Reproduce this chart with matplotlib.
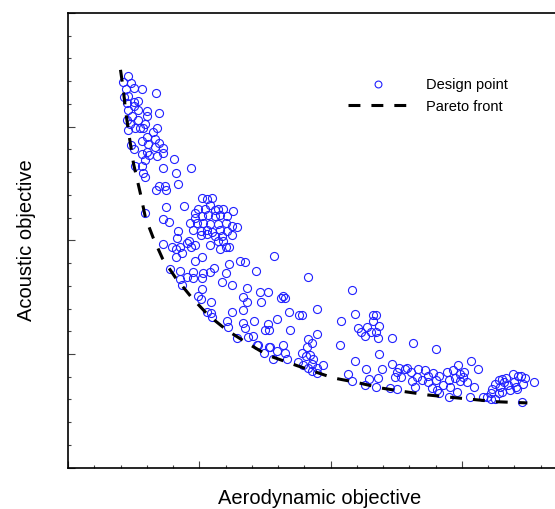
import numpy as np
import matplotlib.pyplot as plt
from matplotlib.ticker import MultipleLocator, AutoMinorLocator

# Pontos de projeto (objetivo aerodinamico, objetivo acustico)
pontos_topo = [
    (0.46, 3.45), (0.42, 3.39), (0.48, 3.38), (0.44, 3.33), (0.50, 3.34), (0.56, 3.33),
    (0.67, 3.30), (0.46, 3.27), (0.43, 3.26), (0.53, 3.23), (0.45, 3.21), (0.50, 3.22),
    (0.46, 3.15), (0.50, 3.18), (0.53, 3.15), (0.60, 3.14), (0.69, 3.12), (0.49, 3.09),
    (0.60, 3.09), (0.45, 3.06), (0.53, 3.06), (0.47, 3.02), (0.59, 3.02), (0.46, 2.97),
    (0.51, 2.99), (0.55, 2.99), (0.57, 2.99), (0.68, 2.99), (0.65, 2.95), (0.60, 2.91),
    (0.66, 2.89), (0.56, 2.87), (0.61, 2.85), (0.69, 2.86), (0.66, 2.82), (0.72, 2.81),
    (0.48, 2.84), (0.50, 2.80), (0.56, 2.76), (0.60, 2.78), (0.62, 2.75), (0.68, 2.74),
    (0.72, 2.77), (0.81, 2.72), (0.59, 2.71), (0.51, 2.65), (0.56, 2.65), (0.72, 2.64),
    (0.94, 2.64), (0.57, 2.59), (0.82, 2.59), (0.59, 2.56),
]
pontos_meio = [
    (0.69, 2.48), (0.74, 2.48), (0.75, 2.44), (0.67, 2.44), (0.84, 2.50), (0.59, 2.24),
    (0.75, 2.29), (0.88, 2.30), (0.72, 2.19), (0.77, 2.16), (1.02, 2.37), (1.06, 2.36),
    (1.10, 2.37), (0.97, 2.24), (0.99, 2.28), (1.04, 2.28), (1.08, 2.31), (1.12, 2.27),
    (1.14, 2.28), (1.18, 2.28), (1.26, 2.26), (0.97, 2.20), (1.02, 2.21), (1.07, 2.22),
    (1.12, 2.21), (1.16, 2.22), (1.21, 2.21), (0.93, 2.15), (0.98, 2.15), (1.03, 2.15),
    (1.08, 2.14), (1.14, 2.14), (1.20, 2.15), (1.25, 2.13), (1.29, 2.12), (0.84, 2.08),
    (0.95, 2.09), (1.01, 2.08), (1.06, 2.09), (1.10, 2.07), (1.16, 2.09), (1.21, 2.08),
    (0.83, 2.02), (0.92, 1.99), (1.01, 2.05), (1.06, 2.06), (1.12, 2.04), (1.17, 2.04),
    (1.25, 2.05), (0.79, 1.94), (0.85, 1.94), (0.91, 1.98), (0.97, 1.96), (1.08, 1.96),
    (1.14, 1.99), (1.18, 1.99), (1.23, 1.94), (0.72, 1.97), (0.82, 1.92), (0.87, 1.89),
    (0.94, 1.94), (1.16, 1.92), (1.20, 1.94), (0.82, 1.85), (0.97, 1.82), (1.02, 1.85),
    (1.57, 1.86), (1.31, 1.82), (1.35, 1.81), (0.78, 1.75), (0.85, 1.73), (0.95, 1.72),
    (1.03, 1.71), (1.08, 1.72), (1.11, 1.76), (1.23, 1.79), (1.20, 1.71), (1.43, 1.73),
    (0.85, 1.66), (0.91, 1.68), (0.95, 1.67), (0.87, 1.61), (1.02, 1.67), (1.17, 1.63),
    (1.25, 1.61), (1.02, 1.57), (0.99, 1.51), (1.01, 1.48), (1.09, 1.46), (1.36, 1.58),
    (1.33, 1.50), (1.36, 1.46), (1.46, 1.55), (1.52, 1.55), (1.47, 1.46), (1.64, 1.51),
    (1.65, 1.49), (1.62, 1.49), (1.06, 1.37), (1.09, 1.36), (1.10, 1.33), (1.25, 1.37),
    (1.21, 1.29), (1.22, 1.24), (1.33, 1.39), (1.33, 1.27), (1.35, 1.23), (1.42, 1.29),
    (1.52, 1.26), (1.50, 1.21), (1.53, 1.21), (1.59, 1.31), (1.68, 1.37), (1.76, 1.34),
    (1.69, 1.21), (1.29, 1.14), (1.37, 1.15), (1.41, 1.16), (1.44, 1.08), (1.53, 1.06),
    (1.64, 1.08),
]
pontos_centro = [
    (1.83, 1.68), (2.16, 1.56), (2.08, 1.29), (1.90, 1.40), (1.78, 1.34), (1.90, 1.18),
    (2.07, 1.08), (1.65, 1.01), (1.67, 0.96), (1.59, 1.03), (1.56, 0.96), (1.54, 1.06),
    (1.49, 1.01), (1.45, 1.08), (1.83, 1.13), (1.86, 1.10), (1.82, 1.06), (1.78, 1.01),
    (1.81, 0.98), (1.84, 0.99), (1.87, 0.96), (1.75, 0.93), (1.79, 0.90), (1.83, 0.88),
    (1.86, 0.91), (1.90, 0.88), (1.94, 0.90), (1.90, 0.83), (1.86, 0.85), (2.13, 0.82),
    (2.16, 0.76),
]
pontos_direita = [
    (2.19, 1.35), (2.32, 1.34), (2.35, 1.34), (2.32, 1.29), (2.21, 1.23), (2.23, 1.19),
    (2.26, 1.16), (2.28, 1.24), (2.31, 1.19), (2.35, 1.19), (2.37, 1.25), (2.36, 1.14),
    (2.47, 1.14), (2.63, 1.10), (2.80, 1.04), (2.37, 1.00), (2.19, 0.94), (2.47, 0.91),
    (2.27, 0.87), (2.29, 0.78), (2.26, 0.73), (2.36, 0.79), (2.39, 0.87), (2.35, 0.71),
    (2.45, 0.70), (2.51, 0.69), (2.51, 0.84), (2.52, 0.88), (2.49, 0.80), (2.54, 0.80),
    (2.57, 0.87), (2.58, 0.88), (2.61, 0.84), (2.62, 0.76), (2.64, 0.71), (2.66, 0.80),
    (2.67, 0.87), (2.70, 0.77), (2.72, 0.86), (2.74, 0.81), (2.74, 0.75), (2.77, 0.70),
    (2.78, 0.83), (2.80, 0.77), (2.81, 0.68), (2.83, 0.66), (2.83, 0.81), (2.86, 0.73),
    (2.89, 0.84), (2.90, 0.77), (2.91, 0.71), (2.90, 0.62), (2.93, 0.86), (2.95, 0.79),
    (2.96, 0.67), (2.99, 0.82), (3.01, 0.80), (3.02, 0.84), (3.04, 0.75), (3.07, 0.94),
    (3.09, 0.71), (3.12, 0.87), (3.06, 0.62), (2.97, 0.90), (2.99, 0.76),
]
pontos_fim = [
    (3.16, 0.62), (3.19, 0.62), (3.22, 0.60), (3.22, 0.66), (3.23, 0.69), (3.25, 0.74),
    (3.28, 0.77), (3.28, 0.66), (3.29, 0.71), (3.32, 0.75), (3.34, 0.79), (3.35, 0.73),
    (3.37, 0.68), (3.39, 0.82), (3.40, 0.75), (3.42, 0.69), (3.45, 0.81), (3.48, 0.79),
    (3.47, 0.74), (3.55, 0.75), (3.46, 0.58), (3.25, 0.60), (3.31, 0.67), (3.31, 0.78),
    (3.43, 0.81), (3.41, 0.71),
]

# Frente de Pareto
pareto_x = [0.40, 0.42, 0.44, 0.47, 0.50, 0.55, 0.59, 0.65, 0.72, 0.82, 0.94, 1.07, 1.21,
            1.36, 1.52, 1.69, 1.84, 2.02, 2.20, 2.39, 2.56, 2.74, 2.91, 3.09, 3.27, 3.50]
pareto_y = [3.50, 3.34, 3.13, 2.89, 2.67, 2.42, 2.20, 2.02, 1.84, 1.67, 1.50, 1.34, 1.21,
            1.10, 0.99, 0.92, 0.86, 0.79, 0.75, 0.70, 0.67, 0.64, 0.62, 0.60, 0.58, 0.57]

pontos = np.array(pontos_topo + pontos_meio + pontos_centro + pontos_direita + pontos_fim)

plt.rcParams['font.family'] = ['Liberation Sans', 'DejaVu Sans']

fig = plt.figure(figsize=(5.55, 5.09), dpi=100)
ax = fig.add_axes([68/555, 41.3/509, 525/555, 454.7/509])

ax.plot(pontos[:, 0], pontos[:, 1], 'o', ls='none', mfc='none', mec='#2020ff',
        ms=5.8, mew=0.8, label='Design point')
ax.plot(pareto_x, pareto_y, color='black', lw=2.2, ls=(0, (3.9, 3.6)), label='Pareto front')

ax.set_xlim(0, 4)
ax.set_ylim(0, 4)
ax.xaxis.set_major_locator(MultipleLocator(1))
ax.yaxis.set_major_locator(MultipleLocator(1))
ax.xaxis.set_minor_locator(AutoMinorLocator(5))
ax.yaxis.set_minor_locator(AutoMinorLocator(5))
ax.tick_params(which='both', direction='in', labelbottom=False, labelleft=False,
               top=False, right=False, width=0.8, color='#444444')
ax.tick_params(which='major', length=5)
ax.tick_params(which='minor', length=2.5)
for s in ax.spines.values():
    s.set_linewidth(1.2)

ax.legend(loc='upper left', bbox_to_anchor=(0.509, 0.885), frameon=False, fontsize=10.5,
          handlelength=4.0, handletextpad=1.3, labelspacing=0.49, markerscale=0.85)

fig.text(320/555, 1 - 498/509, 'Aerodynamic objective', fontsize=14.5, ha='center', va='center')
fig.text(27/555, 1 - 240/509, 'Acoustic objective', fontsize=14.5, ha='center', va='center',
         rotation=90)

fig.savefig('out.png', dpi=100)
